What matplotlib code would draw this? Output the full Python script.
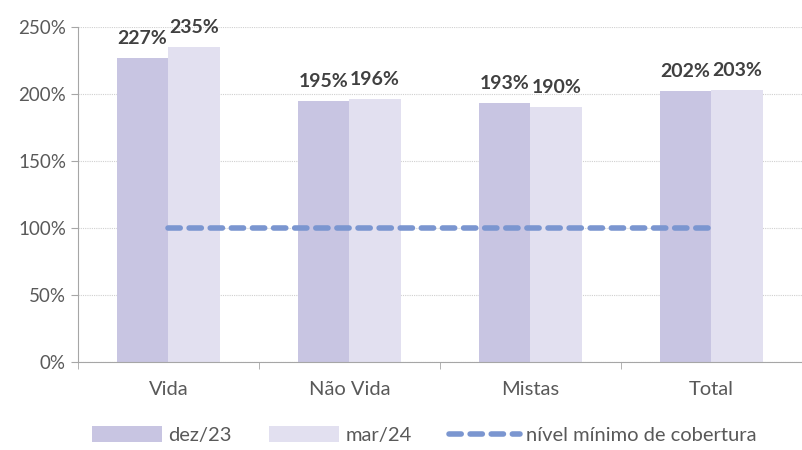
import matplotlib.pyplot as plt
import numpy as np
from matplotlib.ticker import FuncFormatter

categorias = ["Vida", "Não Vida", "Mistas", "Total"]
dez23 = [227, 195, 193, 202]
mar24 = [235, 196, 190, 203]
nivel_minimo = [100, 100, 100, 100]

plt.rcParams["font.family"] = ["Lato", "DejaVu Sans"]

fig = plt.figure(figsize=(8.02, 4.5), dpi=100)
ax = fig.add_axes([0.097, 0.196, 0.903, 0.744])

x = np.arange(len(categorias))
w = 0.285
b1 = ax.bar(x - w / 2, dez23, w, color="#c8c5e2", label="dez/23", zorder=2)
b2 = ax.bar(x + w / 2, mar24, w, color="#e2e0f0", label="mar/24", zorder=2)
ln, = ax.plot(x, nivel_minimo, color="#7b96d0", lw=4, ls=(0, (2.2, 1.6)),
              dash_capstyle="round", label="nível mínimo de cobertura", zorder=3)

for bars, vals in ((b1, dez23), (b2, mar24)):
    for r, v in zip(bars, vals):
        ax.annotate(f"{v}%", (r.get_x() + r.get_width() / 2, v),
                    xytext=(0, 8), textcoords="offset points",
                    ha="center", va="bottom", fontsize=14,
                    fontweight="bold", color="#404040")

ax.set_ylim(0, 250)
ax.set_xlim(-0.5, 3.45)
ax.set_yticks(range(0, 251, 50))
ax.yaxis.set_major_formatter(FuncFormatter(lambda v, p: f"{v:.0f}%"))
ax.yaxis.grid(True, color="#d0d0d0", ls=(0, (1, 1)), lw=0.8, zorder=0)

ax.set_xticks(x)
ax.set_xticklabels(categorias)
ax.set_xticks(np.arange(-0.5, 4, 1), minor=True)
ax.tick_params(axis="x", which="major", length=0, pad=14,
               labelsize=14.5, labelcolor="#595959")
ax.tick_params(axis="x", which="minor", length=5, color="#a6a6a6")
ax.tick_params(axis="y", length=5, color="#a6a6a6",
               labelsize=13.5, labelcolor="#595959")

for s in ("top", "right"):
    ax.spines[s].set_visible(False)
ax.spines["left"].set_color("#a6a6a6")
ax.spines["bottom"].set_color("#a6a6a6")

ax.legend(handles=[b1, b2, ln], loc="lower center", bbox_to_anchor=(0.478, -0.3),
          ncol=3, frameon=False, fontsize=14.5, labelcolor="#595959",
          handlelength=3.5, handleheight=0.8, handletextpad=0.3,
          columnspacing=1.85)

fig.savefig("out.png", dpi=100)
